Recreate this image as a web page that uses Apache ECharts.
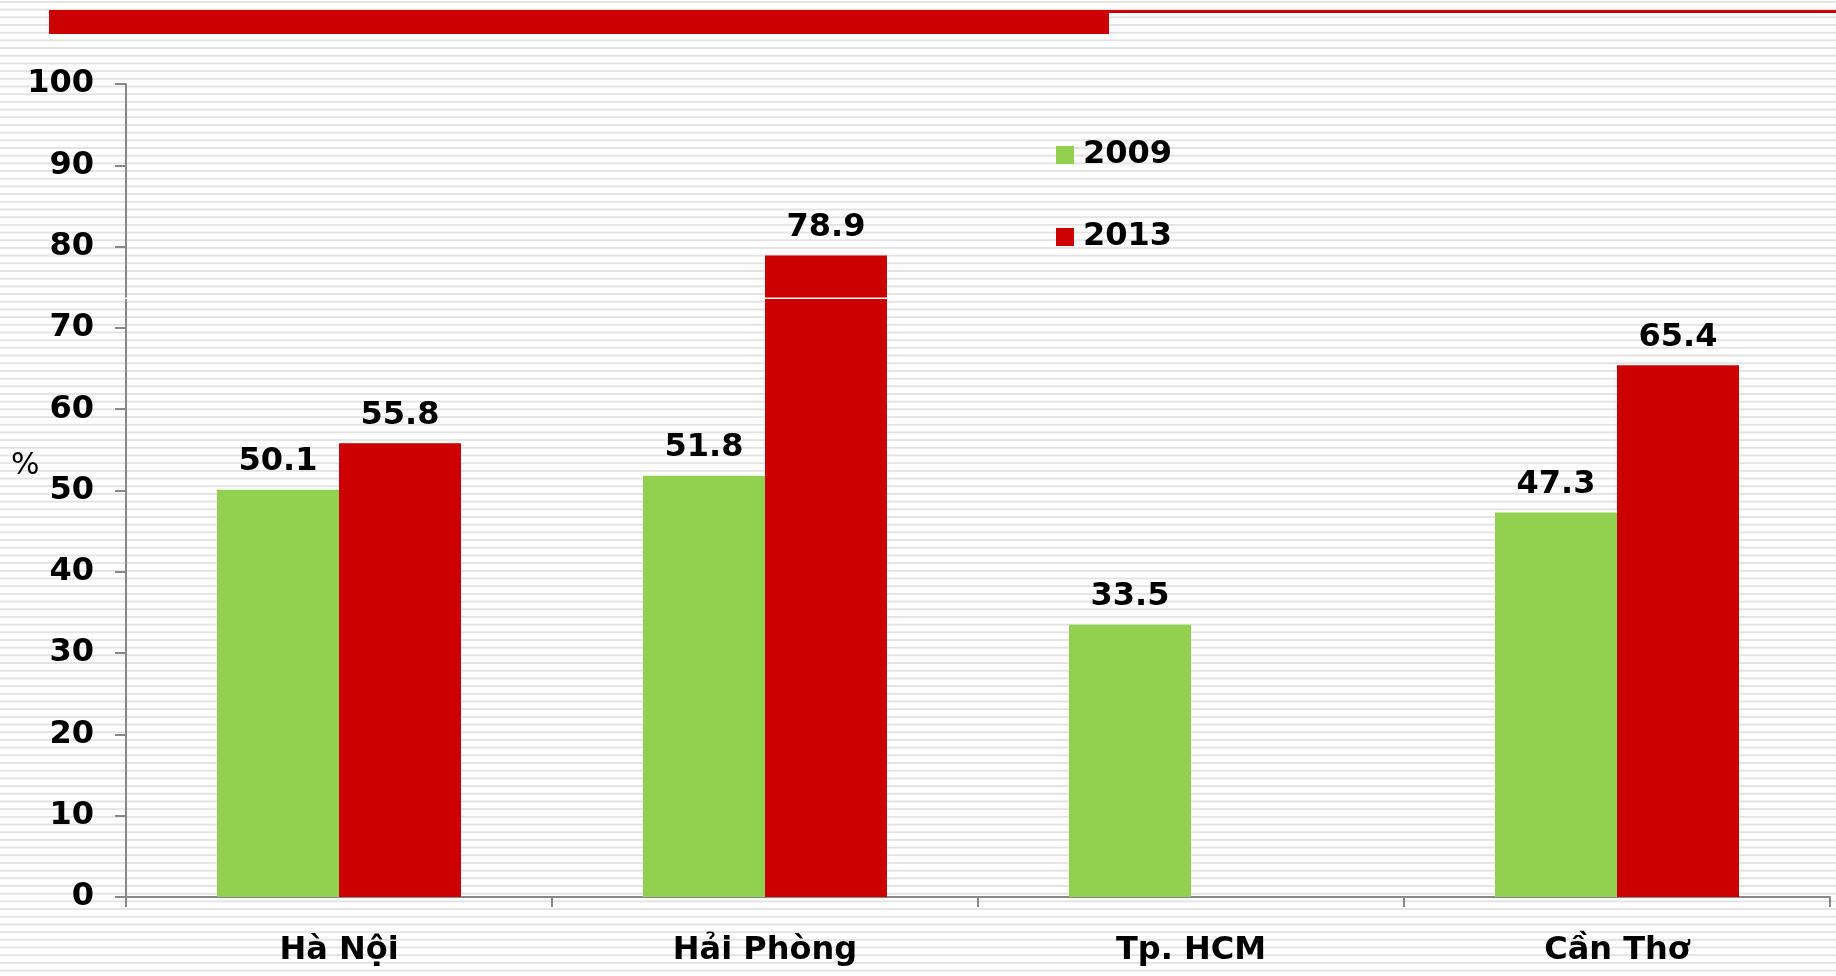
<!DOCTYPE html>
<html>
<head>
<meta charset="utf-8">
<script src="https://cdn.jsdelivr.net/npm/echarts@6/dist/echarts.min.js"></script>
<style>
    html, body {
        margin: 0;
        padding: 0;
        width: 1836px;
        height: 976px;
        overflow: hidden;
    }
    body {
        background-color: #fff;
        background-image: linear-gradient(to bottom, #fff 0, #fff 0.8px, #e3e3e3 0.8px, #e3e3e3 2.8px, #fff 2.8px, #fff 7.7px);
        background-size: 100% 7.7px;
    }
    #chart {
        width: 1836px;
        height: 976px;
    }
</style>
</head>
<body>
<div id="chart"></div>
<script>
// du lieu bieu do
var cities = ['Hà Nội', 'Hải Phòng', 'Tp. HCM', 'Cần Thơ'];
var years = ['2009', '2013'];
var values2009 = [50.1, 51.8, 33.5, 47.3];
var values2013 = [55.8, 78.9, null, 65.4];
var yTicks = [0, 100, 10]; // min, max, interval

window.onload = function () {
    drawChart();
}

function drawChart() {
    var myChart = echarts.init(document.getElementById('chart'));
    var font = '"DejaVu Sans", Verdana, sans-serif';
    var labelStyle = {
        show: true,
        position: 'top',
        distance: 12,
        color: '#000',
        fontFamily: font,
        fontWeight: 'bold',
        fontSize: 32
    };

    var option = {
        backgroundColor: 'transparent',
        animation: false,
        grid: {
            left: 126,
            right: 6,
            top: 84,
            bottom: 79,
            containLabel: false,
            outerBoundsMode: 'none'
        },
        legend: {
            orient: 'vertical',
            left: 1056,
            top: 139,
            padding: 0,
            icon: 'rect',
            itemWidth: 18,
            itemHeight: 18,
            itemGap: 50,
            data: years,
            textStyle: {
                color: '#000',
                fontFamily: font,
                fontWeight: 'bold',
                fontSize: 32,
                padding: [0, 0, 0, 4]
            }
        },
        xAxis: {
            type: 'category',
            data: cities,
            axisLine: {lineStyle: {color: '#888', width: 2}},
            axisTick: {show: true, length: 10, interval: 0, lineStyle: {color: '#888', width: 2}},
            axisLabel: {
                margin: 38,
                interval: 0,
                color: '#000',
                fontFamily: font,
                fontWeight: 'bold',
                fontSize: 32
            },
            splitLine: {show: false}
        },
        yAxis: {
            type: 'value',
            min: yTicks[0],
            max: yTicks[1],
            interval: yTicks[2],
            axisLine: {show: true, lineStyle: {color: '#888', width: 2}},
            axisTick: {show: true, length: 11, lineStyle: {color: '#888', width: 2}},
            axisLabel: {
                margin: 32,
                padding: [9, 0, 0, 0],
                color: '#000',
                fontFamily: font,
                fontWeight: 'bold',
                fontSize: 32
            },
            splitLine: {show: false}
        },
        series: [{
            name: years[0],
            type: 'bar',
            barWidth: 122,
            barGap: '0%',
            itemStyle: {color: '#92D050'},
            label: labelStyle,
            data: values2009
        }, {
            name: years[1],
            type: 'bar',
            barWidth: 122,
            barGap: '0%',
            itemStyle: {color: '#CC0000'},
            label: labelStyle,
            data: values2013
        }],
        graphic: [
            // thanh do tren cung
            {type: 'rect', shape: {x: 49, y: 10, width: 1060, height: 24}, style: {fill: '#CC0000'}},
            {type: 'rect', shape: {x: 1109, y: 10, width: 727, height: 3}, style: {fill: '#CC0000'}},
            // vet trang cat ngang
            {type: 'rect', z: 100, shape: {x: 115, y: 297.5, width: 1721, height: 1.5}, style: {fill: '#fff'}},
            // don vi
            {
                type: 'text', left: 11, top: 451,
                style: {text: '%', fill: '#000', font: '30px "DejaVu Sans", sans-serif'}
            }
        ]
    };

    myChart.setOption(option);
}
</script>
</body>
</html>
